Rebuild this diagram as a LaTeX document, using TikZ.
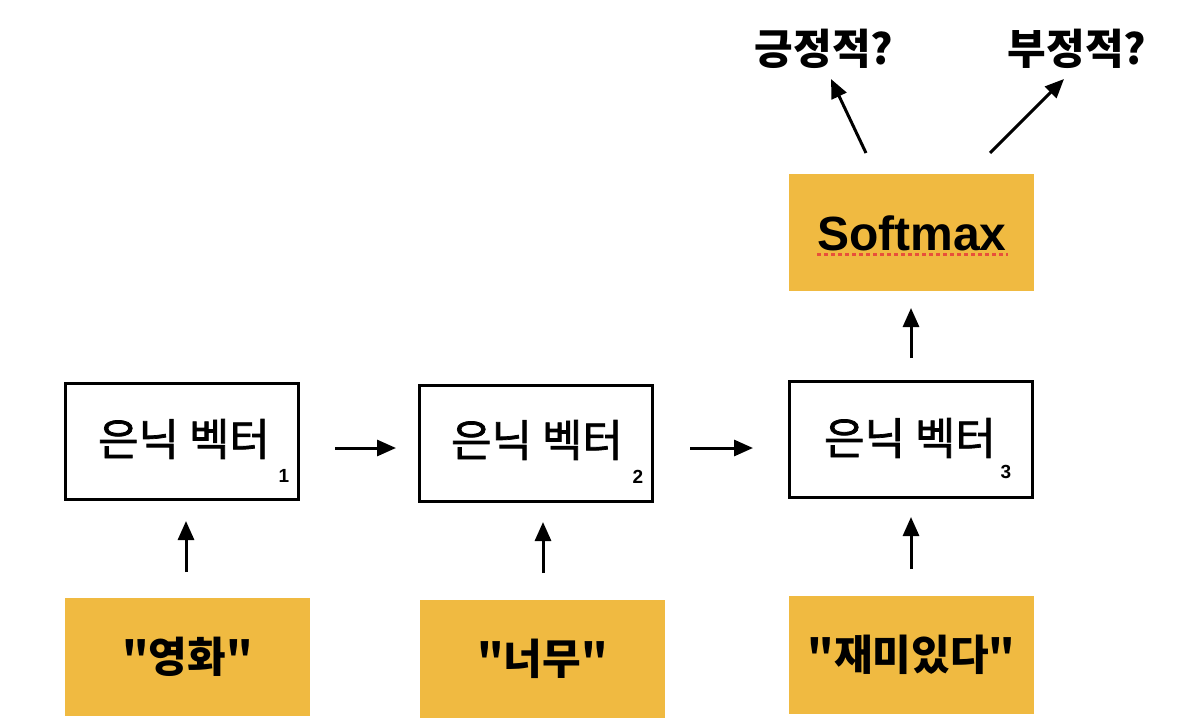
\documentclass[tikz,border=0pt]{standalone}
\usepackage{fontspec}
\setmainfont{Liberation Sans}
\newfontfamily\kr{Noto Sans CJK KR}
\newfontfamily\krmed{Noto Sans CJK KR}[FakeBold=1.6]
\usetikzlibrary{arrows.meta}
\definecolor{boxyellow}{RGB}{240,186,65}
\definecolor{spellred}{RGB}{232,80,58}
\tikzset{
  hidbox/.style={draw=black,line width=3pt,minimum width=233pt,minimum height=116pt,inner sep=0pt},
  yelbox/.style={fill=boxyellow,draw=none,minimum width=245pt,minimum height=118pt,inner sep=0pt},
  arr/.style={line width=3pt,-{Triangle[length=19pt,width=16pt]}},
  hidtxt/.style={font=\krmed\fontsize{44}{44}\selectfont,inner sep=0pt},
  subtxt/.style={font=\bfseries\fontsize{19}{19}\selectfont,inner sep=0pt},
  intxt/.style={font=\kr\bfseries\fontsize{42}{42}\selectfont,inner sep=0pt},
  outtxt/.style={font=\kr\bfseries\fontsize{42}{42}\selectfont,inner sep=0pt}
}
\begin{document}
\begin{tikzpicture}[x=1pt,y=-1pt]
\useasboundingbox (0,0) rectangle (1194,728);
% hidden boxes
\node[hidbox] (h1) at (181.5,441.5) {};
\node[hidbox] (h2) at (535.5,443) {};
\node[hidbox,minimum width=243pt] (h3) at (910.5,439.5) {};
\node[hidtxt] (t1) at (184,439) {은닉 벡터};
\node[hidtxt] (t2) at (537,440) {은닉 벡터};
\node[hidtxt] (t3) at (910,438) {은닉 벡터};
\node[subtxt] (s1) at (284,476) {1};
\node[subtxt] (s2) at (638,477) {2};
\node[subtxt] (s3) at (1006,472) {3};
% input boxes
\node[yelbox] (i1) at (187.5,657) {};
\node[yelbox] (i2) at (542.5,658.5) {};
\node[yelbox] (i3) at (911.5,654.5) {};
\node[intxt] at (i1) {"영화"};
\node[intxt] at (i2) {"너무"};
\node[intxt] at (i3) {"재미있다"};
% softmax
\node[yelbox,minimum height=117pt] (sm) at (911.5,232.5) {};
\node[font=\bfseries\fontsize{48}{48}\selectfont,inner sep=0pt] (smt) at (912,233) {Softmax};
\draw[spellred,line width=3pt,dash pattern=on 4pt off 3pt] (817,254.5) -- (1008,254.5);
% outputs
\node[outtxt] (pos) at (824,49) {긍정적?};
\node[outtxt] (neg) at (1077,49) {부정적?};
% arrow end points
\coordinate (a1s) at (335,448); \coordinate (a1e) at (396,448);
\coordinate (a2s) at (690,448); \coordinate (a2e) at (753,448);
\coordinate (u1s) at (186,572); \coordinate (u1e) at (186,521);
\coordinate (u2s) at (543,573); \coordinate (u2e) at (543,522);
\coordinate (u3s) at (911,569); \coordinate (u3e) at (911,517);
\coordinate (u4s) at (911,358); \coordinate (u4e) at (911,308);
\coordinate (p1s) at (866,153); \coordinate (p1e) at (831,79);
\coordinate (p2s) at (990,153); \coordinate (p2e) at (1064,79);
\draw[arr] (a1s) -- (a1e);
\draw[arr] (a2s) -- (a2e);
\draw[arr] (u1s) -- (u1e);
\draw[arr] (u2s) -- (u2e);
\draw[arr] (u3s) -- (u3e);
\draw[arr] (u4s) -- (u4e);
\draw[arr] (p1s) -- (p1e);
\draw[arr] (p2s) -- (p2e);
\end{tikzpicture}
\end{document}
